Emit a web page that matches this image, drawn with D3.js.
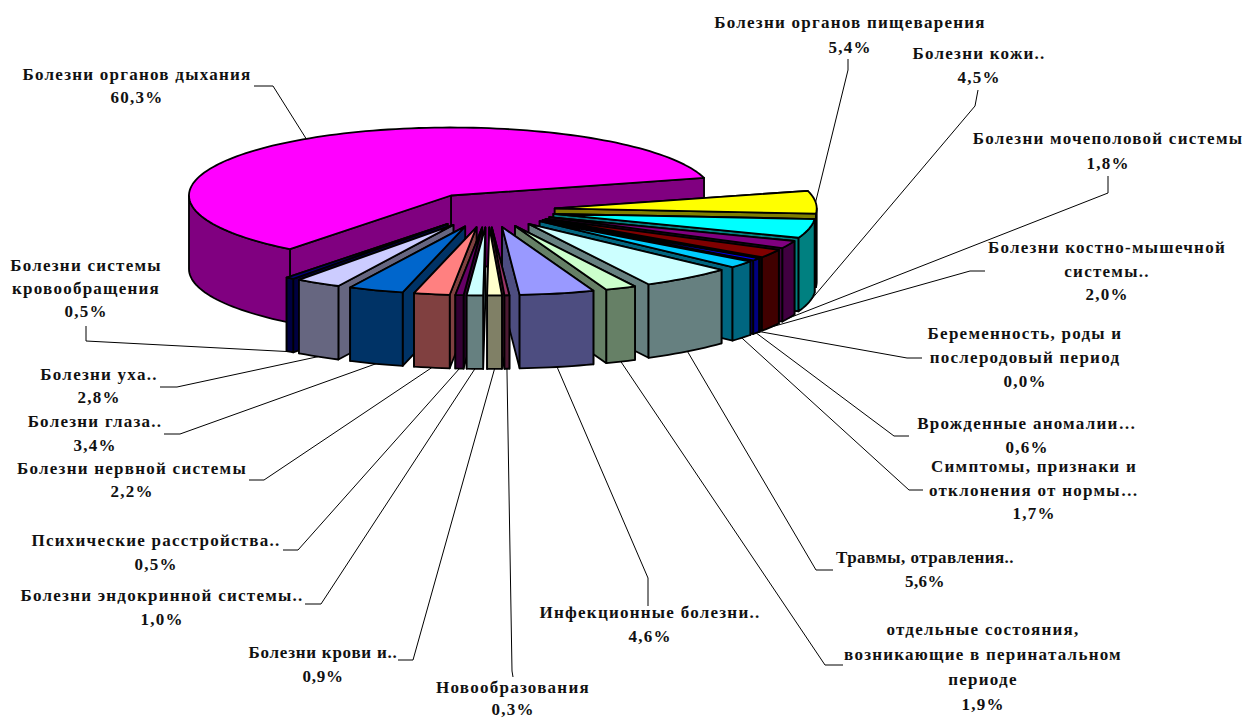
<!DOCTYPE html>
<html lang="ru">
<head>
    <meta charset="UTF-8">
    <script src="https://d3js.org/d3.v7.min.js"></script>
    <title>Структура заболеваний</title>
    <style>
        body { margin: 0; background: #fff; }
        svg { display: block; }
        .label {
            font-family: "Liberation Serif", serif;
            font-weight: bold;
            font-size: 17px;
            letter-spacing: 1.25px;
            fill: #111;
            text-anchor: middle;
        }
    </style>
</head>
<body>
    <div id="chart"></div>
    <script>
        // Categories clockwise, starting right after the big slice
        const categories = [
            ["Болезни органов пищеварения"],
            ["Болезни кожи.."],
            ["Болезни мочеполовой системы"],
            ["Болезни костно-мышечной", "системы.."],
            ["Беременность, роды и", "послеродовый период"],
            ["Врожденные аномалии…"],
            ["Симптомы, признаки и", "отклонения от нормы…"],
            ["Травмы, отравления.."],
            ["отдельные состояния,", "возникающие в перинатальном", "периоде"],
            ["Инфекционные болезни.."],
            ["Новообразования"],
            ["Болезни крови и.."],
            ["Болезни эндокринной системы.."],
            ["Психические расстройства.."],
            ["Болезни нервной системы"],
            ["Болезни глаза.."],
            ["Болезни уха.."],
            ["Болезни системы", "кровообращения"],
            ["Болезни органов дыхания"]
        ];
        const shares = [5.4, 4.5, 1.8, 2.0, 0.0, 0.6, 1.7, 5.6, 1.9, 4.6, 0.3, 0.9, 1.0, 0.5, 2.2, 3.4, 2.8, 0.5, 60.3];
        const colors = ["#FFFF00", "#00FFFF", "#800080", "#800000", "#008080", "#0000FF", "#00CCFF", "#CCFFFF", "#CCFFCC",
            "#9999FF", "#993366", "#FFFFCC", "#CCFFFF", "#660066", "#FF8080", "#0066CC", "#CCCCFF", "#000080", "#FF00FF"];

        // Label placement: centre x, first baseline, line step, then the leader's two fixed points
        const labelLayout = [
            { x: 850, y: 28, step: 24.5, leader: [[848, 59], [848, 70]] },
            { x: 979, y: 59, step: 24, leader: [[978, 90], [975, 106]] },
            { x: 1108, y: 144, step: 25, leader: [[1108, 176], [1108, 193]] },
            { x: 1107, y: 253, step: 23.5, leader: [[985, 271], [970, 271]] },
            { x: 1025, y: 339, step: 24, leader: [[922, 358], [907, 358]] },
            { x: 1027, y: 429, step: 24, leader: [[909, 436], [894, 436]] },
            { x: 1034, y: 472, step: 23.5, leader: [[923, 490], [909, 490]] },
            { x: 925, y: 563, step: 24, spacing: 0.45, leader: [[833, 570], [816, 570]] },
            { x: 983, y: 635, step: 25, leader: [[843, 665], [825, 665]] },
            { x: 650, y: 618, step: 24, leader: [[648, 606], [648, 578]] },
            { x: 513, y: 693, step: 22, leader: [[513, 677], [512, 671]] },
            { x: 323, y: 658, step: 24, spacing: 0.75, leader: [[398, 660], [413, 660]] },
            { x: 162, y: 601, step: 24, leader: [[305, 604], [321, 604]] },
            { x: 156, y: 546, step: 24, leader: [[283, 550], [298, 550]] },
            { x: 132, y: 474, step: 23, leader: [[249, 480], [264, 480]] },
            { x: 95, y: 427, step: 24, leader: [[164, 434], [180, 434]] },
            { x: 99, y: 380, step: 23, leader: [[160, 387], [177, 387]] },
            { x: 86, y: 271, step: 23, leader: [[86, 326], [86, 341]] },
            { x: 137, y: 80, step: 23, leader: [[254, 86], [273, 86]] }
        ];

        const width = 1247, height = 720;
        const centerX = 488, centerY = 210;   // pie centre before explosion
        const rx = 262, ry = 68;              // top face ellipse
        const depth = 73.5;                   // thickness
        const explode = 67;
        const tau = Math.PI * 2;
        const start = 75 * Math.PI / 180;

        const svg = d3.select("#chart").append("svg")
            .attr("width", width)
            .attr("height", height);

        const color = d3.scaleOrdinal(d3.range(shares.length), colors);
        const shade = c => { const r = d3.rgb(c); return d3.rgb(r.r / 2, r.g / 2, r.b / 2).formatHex(); };

        const arcs = d3.pie().sort(null).startAngle(start).endAngle(start + tau)(shares);

        // clockwise-from-top angle to screen position, radius as a fraction of the ellipse
        const project = (a, r, o) => [o[0] + r * rx * Math.sin(a), o[1] - r * ry * Math.cos(a)];
        const down = p => [p[0], p[1] + depth];
        const line = d3.line();
        const closed = pts => line(pts) + "Z";
        const arcPoints = (a0, a1, o) => {
            const n = Math.max(2, Math.ceil((a1 - a0) / 0.03));
            return d3.range(n + 1).map(i => project(a0 + (a1 - a0) * i / n, 1, o));
        };

        const slices = arcs.map((d, i) => {
            const mid = (d.startAngle + d.endAngle) / 2;
            const apex = [centerX + explode * Math.sin(mid), centerY - explode * ry / rx * Math.cos(mid)];
            return { ...d, i, mid, apex };
        });

        // Leaders sit under the pie and stop at the rim of their own slice
        slices.forEach(s => {
            const rim = project(s.mid, 1, s.apex);
            const end = Math.cos(s.mid) > 0 ? rim : down(rim);
            svg.append("path")
                .attr("d", line([...labelLayout[s.i].leader, end]))
                .attr("fill", "none")
                .attr("stroke", "#000")
                .attr("stroke-width", 1);
        });

        const face = (d, fill) => svg.append("path")
            .attr("d", d)
            .attr("fill", fill)
            .attr("stroke", "#000")
            .attr("stroke-width", 1.8)
            .attr("stroke-linejoin", "round");

        // Painter's order: back slices first
        slices.slice().sort((a, b) => a.apex[1] - b.apex[1]).forEach(s => {
            const c = color(s.i), side = shade(c);
            const radial = a => {
                const p = project(a, 1, s.apex);
                return closed([s.apex, p, down(p), down(s.apex)]);
            };
            const first = Math.sin(s.mid) > 0 ? s.startAngle : s.endAngle;
            const second = first === s.startAngle ? s.endAngle : s.startAngle;
            face(radial(first), side);
            face(radial(second), side);

            // outer wall, only where the rim faces the viewer
            [0, 1].forEach(k => {
                const a0 = Math.max(s.startAngle, Math.PI / 2 + k * tau);
                const a1 = Math.min(s.endAngle, 1.5 * Math.PI + k * tau);
                if (a1 > a0) {
                    const rim = arcPoints(a0, a1, s.apex);
                    face(closed([...rim, ...rim.map(down).reverse()]), side);
                }
            });

            face(closed([s.apex, ...arcPoints(s.startAngle, s.endAngle, s.apex)]), c);
        });

        // Labels: name lines, then the share with a decimal comma
        const fmt = v => v.toFixed(1).replace(".", ",") + "%";
        categories.forEach((lines, i) => {
            const l = labelLayout[i];
            const text = svg.append("text").attr("class", "label");
            if (l.spacing !== undefined) text.style("letter-spacing", l.spacing + "px");
            [...lines, fmt(shares[i])].forEach((t, j) => {
                text.append("tspan").attr("x", l.x).attr("y", l.y + j * l.step).text(t);
            });
        });
    </script>
</body>
</html>
